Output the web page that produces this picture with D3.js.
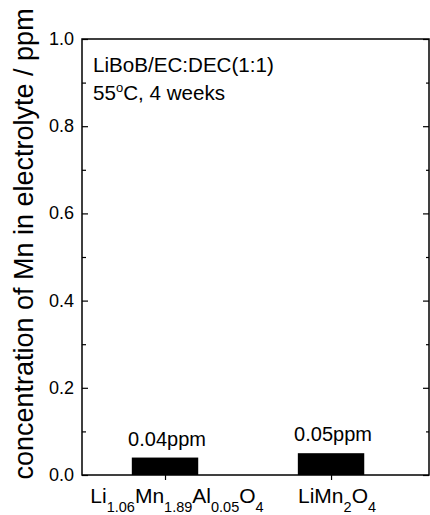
<!DOCTYPE html>
<html>
<head>
<meta charset="utf-8">
<script src="https://cdn.jsdelivr.net/npm/d3@7"></script>
<style>
  body { margin: 0; background: #fff; }
  text { font-family: "Liberation Sans", Arial, sans-serif; fill: #000; }
</style>
</head>
<body>
<svg id="chart" width="430" height="515"></svg>
<script>
// data
var positions = [1, 2];
var values = [0.04, 0.05];
var barLabels = ["0.04ppm", "0.05ppm"];
// category labels as [text, isSubscript] pieces
var catLabels = [
  [["Li", 0], ["1.06", 1], ["Mn", 0], ["1.89", 1], ["Al", 0], ["0.05", 1], ["O", 0], ["4", 1]],
  [["LiMn", 0], ["2", 1], ["O", 0], ["4", 1]]
];
var yMajor = [0, 0.2, 0.4, 0.6, 0.8, 1.0];
var yMinor = [0.1, 0.3, 0.5, 0.7, 0.9];

var svg = d3.select("#chart");
var mLeft = 82, mRight = 429, mTop = 39, mBottom = 475;

var x = d3.scaleLinear().domain([0.5, 2.59]).range([mLeft, mRight]);
var y = d3.scaleLinear().domain([0, 1]).range([mBottom, mTop]);
var barW = x(1.4) - x(1);

// bars
svg.append("g").selectAll("rect")
  .data(positions)
  .enter().append("rect")
  .attr("x", function(d) { return x(d) - barW / 2; })
  .attr("y", function(d, i) { return y(values[i]); })
  .attr("width", barW)
  .attr("height", function(d, i) { return y(0) - y(values[i]); })
  .attr("fill", "#000");

svg.append("g").selectAll("text")
  .data(positions)
  .enter().append("text")
  .attr("x", function(d) { return x(d) + 2; })
  .attr("y", function(d, i) { return y(values[i]) - 12; })
  .attr("text-anchor", "middle")
  .style("font-size", "20px")
  .text(function(d, i) { return barLabels[i]; });

// left axis, ticks inward
svg.append("g").attr("transform", "translate(" + mLeft + ",0)")
  .call(d3.axisRight(y).tickValues(yMajor).tickSize(6).tickFormat(""));
svg.append("g").attr("transform", "translate(" + mLeft + ",0)")
  .call(d3.axisRight(y).tickValues(yMinor).tickSize(4).tickFormat(""));
// right axis, ticks inward
svg.append("g").attr("transform", "translate(" + mRight + ",0)")
  .call(d3.axisLeft(y).tickValues(yMajor).tickSize(6).tickFormat(""));
svg.append("g").attr("transform", "translate(" + mRight + ",0)")
  .call(d3.axisLeft(y).tickValues(yMinor).tickSize(3).tickFormat(""));
// bottom axis, ticks outward
svg.append("g").attr("transform", "translate(0," + mBottom + ")")
  .call(d3.axisBottom(x).tickValues(positions).tickSize(5).tickFormat(""));

svg.selectAll(".domain").remove();
svg.selectAll(".tick line").attr("stroke", "#000").attr("stroke-width", 1.2);

// y tick labels
svg.append("g").selectAll("text")
  .data(yMajor)
  .enter().append("text")
  .attr("x", mLeft - 8)
  .attr("y", function(d) { return y(d) + 6; })
  .attr("text-anchor", "end")
  .style("font-size", "18px")
  .text(function(d) { return d3.format(".1f")(d); });

// frame
svg.append("rect")
  .attr("x", mLeft).attr("y", mTop)
  .attr("width", mRight - mLeft).attr("height", mBottom - mTop)
  .attr("fill", "none").attr("stroke", "#000").attr("stroke-width", 1.5);

// category labels with subscripts
positions.forEach(function(p, i) {
  var t = svg.append("text")
    .attr("x", x(p) + (i == 0 ? 12 : 6))
    .attr("y", 503)
    .attr("text-anchor", "middle")
    .style("font-size", "21px");
  catLabels[i].forEach(function(part, k) {
    var s = t.append("tspan").text(part[0]);
    if (part[1]) s.style("font-size", "14.5px").attr("dy", 9);
    else s.attr("dy", k == 0 ? 0 : -9);
  });
});

// y title
svg.append("text")
  .attr("transform", "translate(33,244) rotate(-90)")
  .attr("text-anchor", "middle")
  .style("font-size", "27px")
  .text("concentration of Mn in electrolyte / ppm");

// annotation
svg.append("text")
  .attr("x", 93).attr("y", 72)
  .style("font-size", "20.6px")
  .text("LiBoB/EC:DEC(1:1)");
var t2 = svg.append("text")
  .attr("x", 93).attr("y", 100)
  .style("font-size", "20.6px");
t2.append("tspan").text("55");
t2.append("tspan").text("o").style("font-size", "13px").attr("dy", -8);
t2.append("tspan").text("C, 4 weeks").attr("dy", 8);
</script>
</body>
</html>
